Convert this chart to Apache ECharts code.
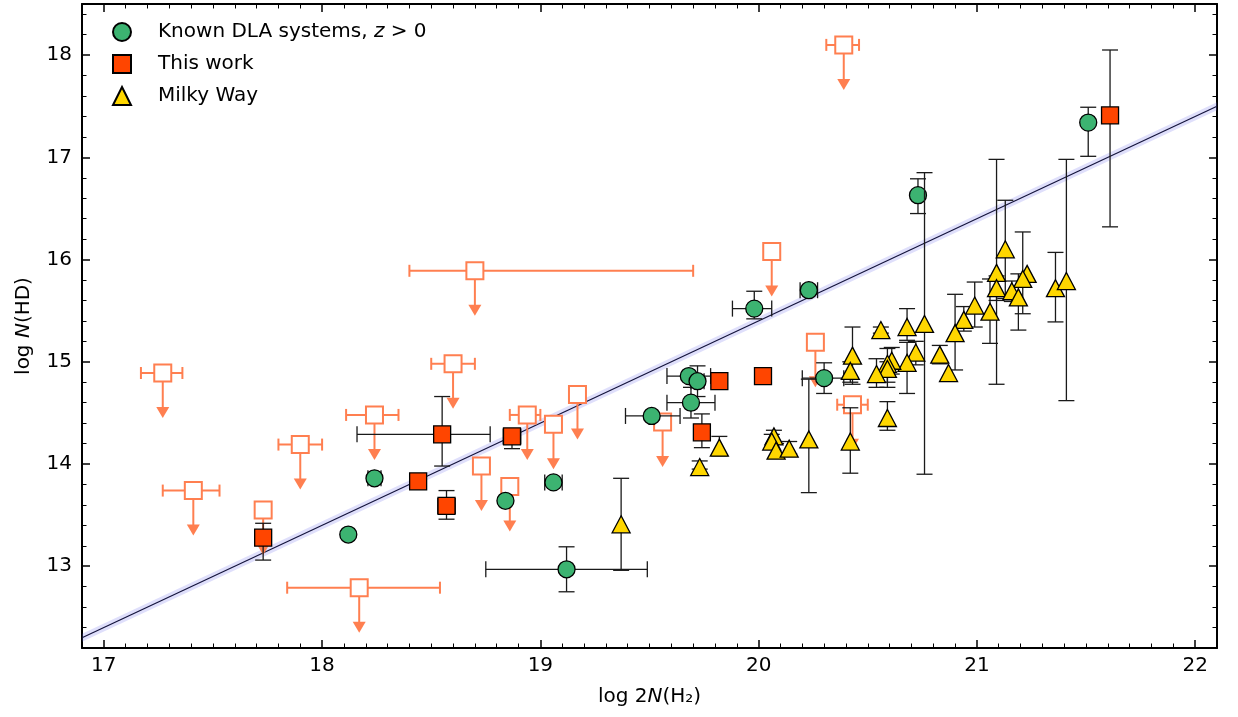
<!DOCTYPE html>
<html>
<head>
<meta charset="utf-8">
<title>HD vs H2</title>
<script src="https://cdn.jsdelivr.net/npm/echarts@6.0.0/dist/echarts.min.js"></script>
<style>
  html, body { margin: 0; padding: 0; background: #fff; }
  #chart { width: 1238px; height: 717px; }
</style>
</head>
<body>
<div id="chart"></div>
<script>
// Known DLA systems, z > 0
const dlaX = [21.51, 20.73, 20.23, 19.98, 19.68, 19.72, 19.69, 19.51, 20.30, 19.12, 19.06, 18.84, 18.24, 18.12];
const dlaY = [17.34, 16.63, 15.70, 15.52, 14.86, 14.81, 14.60, 14.47, 14.84, 12.97, 13.82, 13.64, 13.86, 13.31];
const dlaXErrLo = [0, 0, 0.04, 0.10, 0.10, 0.03, 0.11, 0.12, 0.10, 0.37, 0.04, 0, 0.03, 0];
const dlaXErrHi = [0, 0, 0.04, 0.08, 0.10, 0.03, 0.11, 0.13, 0.09, 0.37, 0.04, 0, 0.03, 0];
const dlaYErrLo = [0.33, 0.18, 0, 0.10, 0, 0.15, 0.15, 0, 0.15, 0.22, 0, 0, 0, 0];
const dlaYErrHi = [0.15, 0.16, 0, 0.17, 0, 0.15, 0.15, 0, 0.15, 0.22, 0, 0, 0, 0];

// This work
const workX = [21.61, 20.02, 19.82, 19.74, 18.87, 18.55, 18.57, 18.44, 17.73];
const workY = [17.41, 14.86, 14.81, 14.31, 14.27, 14.29, 13.59, 13.83, 13.28];
const workXErrLo = [0, 0, 0, 0, 0.04, 0.39, 0.04, 0, 0.02];
const workXErrHi = [0, 0, 0, 0, 0.04, 0.22, 0.04, 0, 0.02];
const workYErrLo = [1.09, 0, 0, 0.15, 0.12, 0.31, 0.13, 0, 0.22];
const workYErrHi = [0.64, 0, 0, 0.18, 0, 0.37, 0.15, 0, 0.14];

// This work, upper limits on N(HD)
const limX = [20.39, 18.70, 17.27, 18.60, 18.24, 17.90, 17.41, 17.73, 18.17, 18.73, 18.86, 18.94, 19.06, 19.17, 19.56, 20.06, 20.26, 20.43];
const limY = [18.10, 15.89, 14.89, 14.98, 14.48, 14.19, 13.74, 13.55, 12.79, 13.98, 13.78, 14.48, 14.39, 14.68, 14.41, 16.08, 15.19, 14.58];
const limXErrLo = [0.08, 0.30, 0.10, 0.10, 0.13, 0.10, 0.14, 0, 0.33, 0, 0, 0.08, 0, 0, 0, 0, 0, 0.07];
const limXErrHi = [0.07, 1.00, 0.09, 0.10, 0.11, 0.10, 0.12, 0, 0.37, 0, 0, 0.06, 0, 0, 0, 0, 0, 0.07];

// Milky Way
const mwX = [21.13, 21.09, 21.09, 21.23, 21.21, 21.16, 21.19, 21.36, 21.41, 21.06, 20.99, 20.94, 20.90, 20.83, 20.87, 20.76, 20.68, 20.72,
             20.68, 20.61, 20.59, 20.59, 20.54, 20.56, 20.43, 20.42, 20.59, 20.42, 20.23, 20.07, 20.06, 20.08, 20.14, 19.82, 19.73, 19.37];
const mwY = [16.10, 15.87, 15.72, 15.86, 15.81, 15.69, 15.63, 15.72, 15.79, 15.49, 15.55, 15.41, 15.28, 15.07, 14.89, 15.37, 15.34, 15.09,
             14.99, 15.01, 14.98, 14.93, 14.88, 15.31, 15.06, 14.91, 14.45, 14.22, 14.24, 14.27, 14.22, 14.13, 14.15, 14.16, 13.97, 13.41];
const mwYErrHi = [0.48, 1.11, 0.12, 0, 0.46, 0.10, 0.23, 0.35, 1.19, 0.32, 0.23, 0.13, 0.38, 0.09, 0, 1.48, 0.18, 0.11,
                  0.20, 0.13, 0.15, 0.07, 0.15, 0.03, 0.28, 0.09, 0.16, 0.33, 0.59, 0.06, 0.07, 0.07, 0.07, 0.11, 0.06, 0.45];
const mwYErrLo = [0.48, 1.09, 0.12, 0, 0.34, 0.10, 0.32, 0.33, 1.17, 0.31, 0.21, 0.11, 0.36, 0.09, 0, 1.47, 0.13, 0.12,
                  0.30, 0.13, 0.18, 0.18, 0.13, 0.03, 0.28, 0.11, 0.12, 0.31, 0.52, 0.06, 0.07, 0.07, 0.05, 0.08, 0.02, 0.45];

// fit line and its band
const fitX = [16.9, 22.1];
const fitY = [12.30, 17.50];
const fitErr = 0.04;

const FONT = 'DejaVu Sans';
const FS = 20;
const DLA_NAME = 'Known DLA systems, z > 0';
const CORAL = '#ff7f50';
const ARROW = 45; // px

function seg(x1, y1, x2, y2, style) {
  return { type: 'line', shape: { x1: x1, y1: y1, x2: x2, y2: y2 }, style: style };
}

function errorBars(color, width, cap) {
  return function (params, api) {
    var x = api.value(0), y = api.value(1);
    var xl = api.value(2), xh = api.value(3), yl = api.value(4), yh = api.value(5);
    var st = { stroke: color, lineWidth: width, fill: null };
    var kids = [];
    if (xh > xl) {
      var a = api.coord([xl, y]), b = api.coord([xh, y]);
      kids.push(seg(a[0], a[1], b[0], b[1], st));
      kids.push(seg(a[0], a[1] - cap, a[0], a[1] + cap, st));
      kids.push(seg(b[0], b[1] - cap, b[0], b[1] + cap, st));
    }
    if (yh > yl) {
      var c = api.coord([x, yl]), d = api.coord([x, yh]);
      kids.push(seg(c[0], c[1], d[0], d[1], st));
      kids.push(seg(c[0] - cap, c[1], c[0] + cap, c[1], st));
      kids.push(seg(d[0] - cap, d[1], d[0] + cap, d[1], st));
    }
    return { type: 'group', children: kids };
  };
}

function limitBars(params, api) {
  var x = api.value(0), y = api.value(1), xl = api.value(2), xh = api.value(3);
  var c = api.coord([x, y]);
  var st = { stroke: CORAL, lineWidth: 2, fill: null };
  var kids = [];
  if (xh > xl) {
    var a = api.coord([xl, y]), b = api.coord([xh, y]);
    kids.push(seg(a[0], a[1], b[0], b[1], st));
    kids.push(seg(a[0], a[1] - 6, a[0], a[1] + 6, st));
    kids.push(seg(b[0], b[1] - 6, b[0], b[1] + 6, st));
  }
  kids.push(seg(c[0], c[1], c[0], c[1] + ARROW - 9, st));
  kids.push({
    type: 'polygon',
    shape: { points: [[c[0] - 6.5, c[1] + ARROW - 11], [c[0] + 6.5, c[1] + ARROW - 11], [c[0], c[1] + ARROW]] },
    style: { fill: CORAL }
  });
  return { type: 'group', children: kids };
}

function bandRender(params, api) {
  var p0 = api.coord([api.value(0), api.value(1) - fitErr]);
  var p1 = api.coord([api.value(2), api.value(3) - fitErr]);
  var p2 = api.coord([api.value(2), api.value(3) + fitErr]);
  var p3 = api.coord([api.value(0), api.value(1) + fitErr]);
  return { type: 'polygon', shape: { points: [p0, p1, p2, p3] }, style: { fill: 'rgba(110,110,235,0.22)' } };
}

function errData(xs, ys, xlo, xhi, ylo, yhi) {
  return xs.map(function (x, i) {
    return [x, ys[i], x - xlo[i], x + xhi[i], ys[i] - ylo[i], ys[i] + yhi[i]];
  });
}

function pts(xs, ys) {
  return xs.map(function (x, i) { return [x, ys[i]]; });
}

const zeros = function (n) { return new Array(n).fill(0); };

function makeXAxis(pos) {
  var bottom = pos === 'bottom';
  return {
    type: 'value', position: pos, min: 16.9, max: 22.1, splitNumber: 5,
    axisLine: { show: true, onZero: false, lineStyle: { color: '#000', width: 2 } },
    axisTick: { show: true, inside: true, length: 8, lineStyle: { color: '#000', width: 1.5 } },
    minorTick: { show: true, splitNumber: 10, length: 4.5, lineStyle: { color: '#000', width: 1 } },
    axisLabel: { show: bottom, color: '#000', fontSize: FS, fontFamily: FONT, margin: 8, showMinLabel: false, showMaxLabel: false },
    splitLine: { show: false },
    name: bottom ? 'log 2{i|N}(H₂)' : '',
    nameLocation: 'middle', nameGap: 39,
    nameTextStyle: { color: '#000', fontSize: FS, fontFamily: FONT, rich: { i: { fontStyle: 'italic', fontSize: FS, fontFamily: FONT } } }
  };
}

function makeYAxis(pos) {
  var left = pos === 'left';
  return {
    type: 'value', position: pos, min: 12.2, max: 18.5, splitNumber: 6,
    axisLine: { show: true, onZero: false, lineStyle: { color: '#000', width: 2 } },
    axisTick: { show: true, inside: true, length: 8, lineStyle: { color: '#000', width: 1.5 } },
    minorTick: { show: true, splitNumber: 5, length: 4.5, lineStyle: { color: '#000', width: 1 } },
    axisLabel: { show: left, color: '#000', fontSize: FS, fontFamily: FONT, margin: 10, showMinLabel: false, showMaxLabel: false },
    splitLine: { show: false },
    name: left ? 'log {i|N}(HD)' : '',
    nameLocation: 'middle', nameGap: 48, nameRotate: 90,
    nameTextStyle: { color: '#000', fontSize: FS, fontFamily: FONT, rich: { i: { fontStyle: 'italic', fontSize: FS, fontFamily: FONT } } }
  };
}

const chart = echarts.init(document.getElementById('chart'));
chart.setOption({
  animation: false,
  backgroundColor: '#fff',
  textStyle: { fontFamily: FONT },
  grid: { left: 82, right: 21, top: 4, bottom: 69, containLabel: false },
  xAxis: [makeXAxis('bottom'), makeXAxis('top')],
  yAxis: [makeYAxis('left'), makeYAxis('right')],
  legend: {
    data: [DLA_NAME, 'This work', 'Milky Way'],
    orient: 'vertical', left: 112, top: 22, padding: 0,
    itemWidth: 18, itemHeight: 18, itemGap: 12,
    selectedMode: false,
    textStyle: {
      color: '#000', fontSize: FS, fontFamily: FONT, padding: [0, 0, 0, 22],
      rich: { i: { fontStyle: 'italic', fontSize: FS, fontFamily: FONT } }
    },
    formatter: function (name) {
      return name.replace(', z', ', {i|z}');
    }
  },
  series: [
    {
      type: 'custom', name: 'band', silent: true, z: 1,
      renderItem: bandRender,
      encode: { x: [0, 2], y: [1, 3] },
      data: [[fitX[0], fitY[0], fitX[1], fitY[1]]]
    },
    {
      type: 'line', name: 'fit', silent: true, z: 2,
      showSymbol: false, symbol: 'none',
      lineStyle: { color: '#14143c', width: 1.2 },
      data: pts(fitX, fitY)
    },
    {
      type: 'custom', name: 'limits', silent: true, z: 3,
      renderItem: limitBars,
      encode: { x: 0, y: 1 },
      data: limX.map(function (x, i) { return [x, limY[i], x - limXErrLo[i], x + limXErrHi[i]]; })
    },
    {
      type: 'scatter', name: 'upper limits', silent: true, z: 4,
      symbol: 'rect', symbolSize: 17,
      itemStyle: { color: '#fff', borderColor: CORAL, borderWidth: 2, opacity: 1 },
      data: pts(limX, limY)
    },
    {
      type: 'custom', name: 'dla err', silent: true, z: 5,
      renderItem: errorBars('#1a1a1a', 1.3, 8),
      encode: { x: 0, y: 1 },
      data: errData(dlaX, dlaY, dlaXErrLo, dlaXErrHi, dlaYErrLo, dlaYErrHi)
    },
    {
      type: 'scatter', name: DLA_NAME, silent: true, z: 6,
      symbol: 'circle', symbolSize: 17,
      itemStyle: { color: '#3cb371', borderColor: '#000', borderWidth: 1.3, opacity: 1 },
      data: pts(dlaX, dlaY)
    },
    {
      type: 'custom', name: 'work err', silent: true, z: 7,
      renderItem: errorBars('#1a1a1a', 1.3, 8),
      encode: { x: 0, y: 1 },
      data: errData(workX, workY, workXErrLo, workXErrHi, workYErrLo, workYErrHi)
    },
    {
      type: 'scatter', name: 'This work', silent: true, z: 8,
      symbol: 'rect', symbolSize: 17,
      itemStyle: { color: '#ff4500', borderColor: '#000', borderWidth: 1.3, opacity: 1 },
      data: pts(workX, workY)
    },
    {
      type: 'custom', name: 'mw err', silent: true, z: 9,
      renderItem: errorBars('#1a1a1a', 1.3, 8),
      encode: { x: 0, y: 1 },
      data: errData(mwX, mwY, zeros(mwX.length), zeros(mwX.length), mwYErrLo, mwYErrHi)
    },
    {
      type: 'scatter', name: 'Milky Way', silent: true, z: 10,
      symbol: 'triangle', symbolSize: [18, 17],
      itemStyle: { color: '#ffd700', borderColor: '#000', borderWidth: 1.3, opacity: 1 },
      data: pts(mwX, mwY)
    }
  ]
});
</script>
</body>
</html>
